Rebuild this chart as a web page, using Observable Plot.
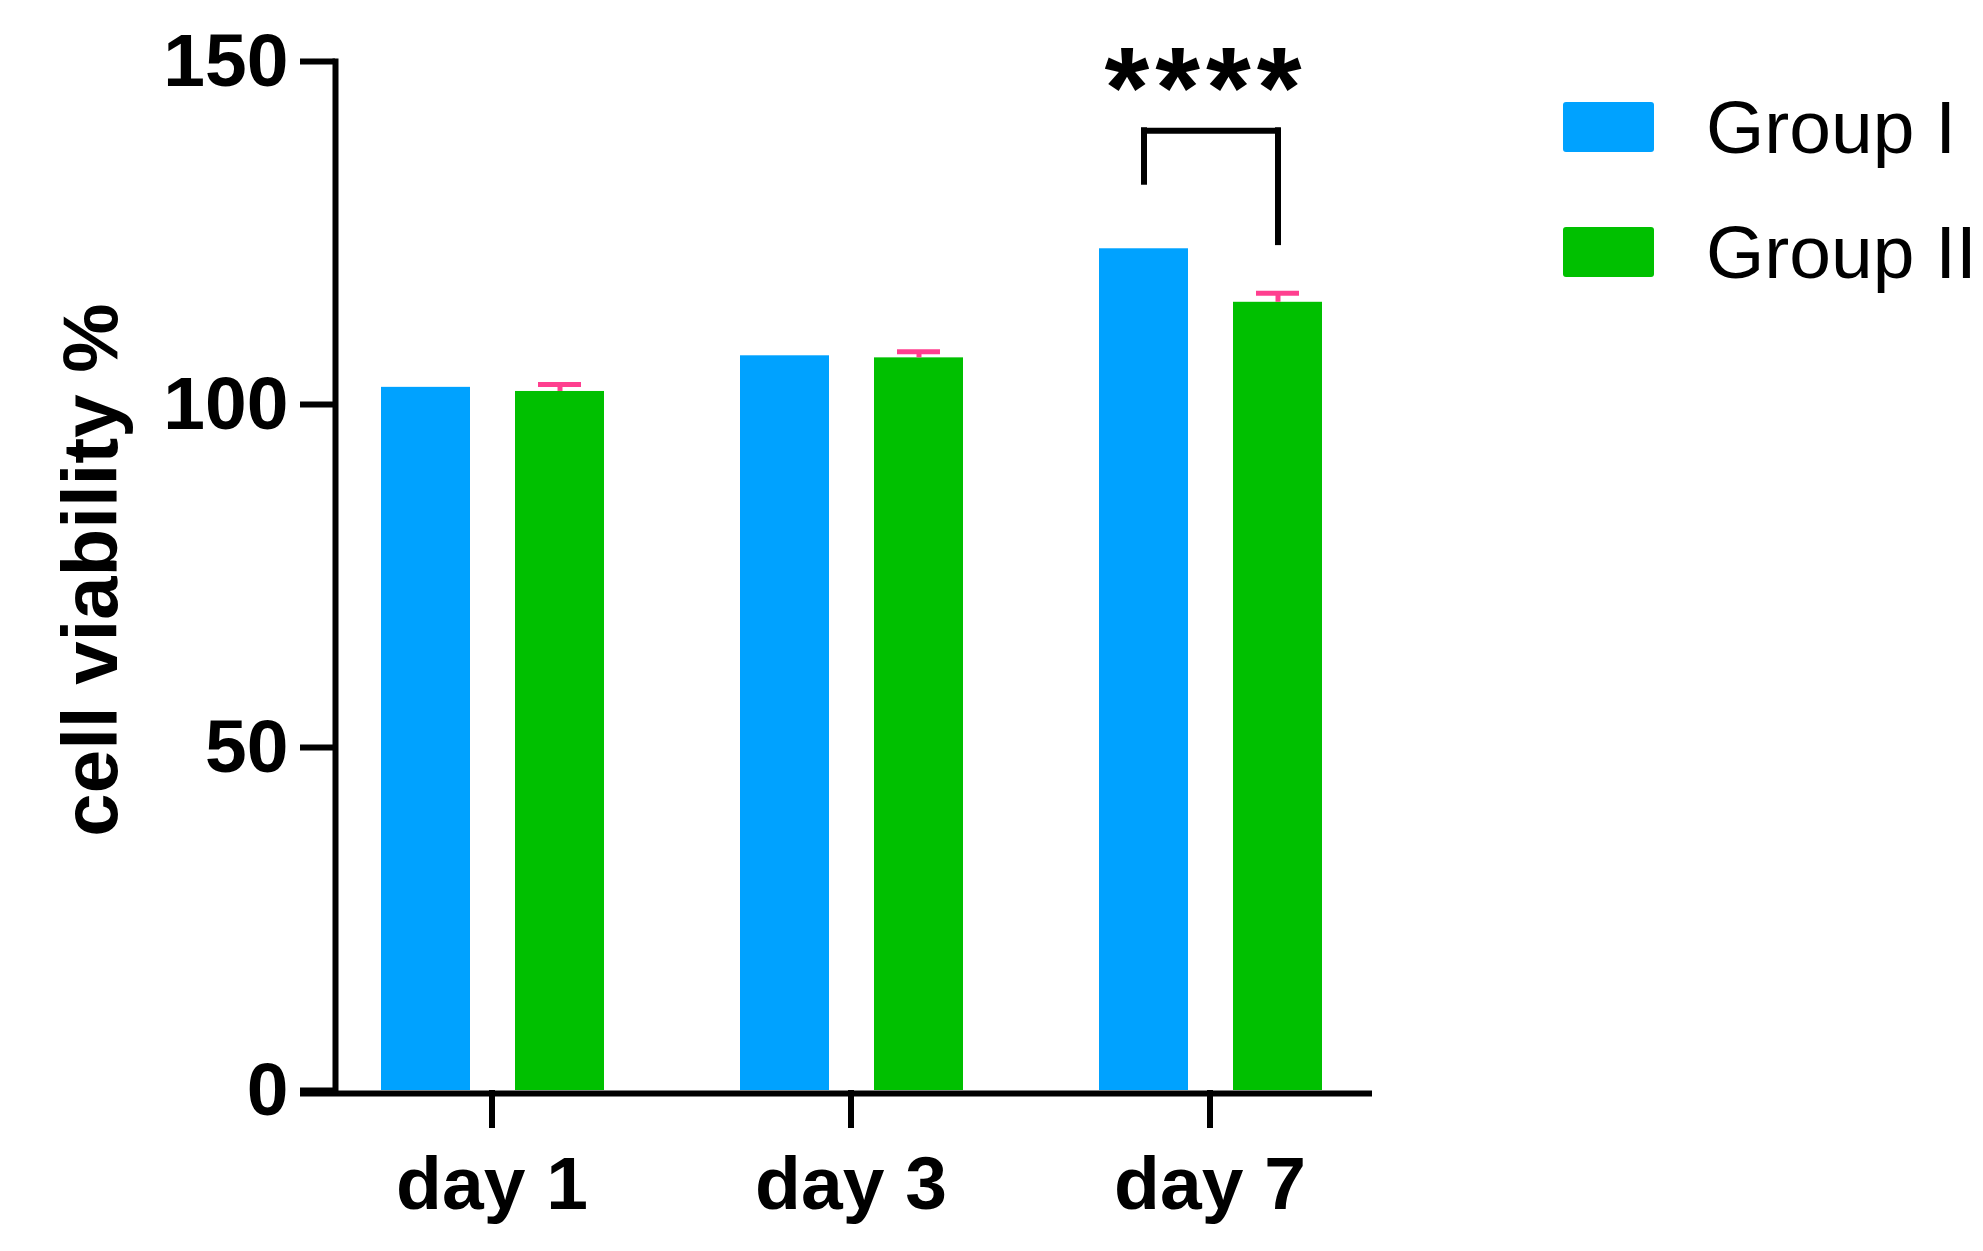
<!DOCTYPE html>
<html><head><meta charset="utf-8">
<script src="https://cdn.jsdelivr.net/npm/d3@7"></script>
<script src="https://cdn.jsdelivr.net/npm/@observablehq/plot@0.6"></script>
<style>
body{margin:0;background:#fff;}
#wrap{position:relative;width:1983px;height:1251px;}
#legend{position:absolute;left:0;top:0;}
</style>
</head><body><div id="wrap"></div>
<script>
// ---- data ----
const days = ["day 1", "day 3", "day 7"];
const groups = ["Group I", "Group II"];
const groupI = [102.5, 107.1, 122.7];
const groupII = [101.9, 106.8, 114.9];
const groupIIerr = [1.0, 0.9, 1.3];
const yTicks = [0, 50, 100, 150];
const sigDay = "day 7";
const sigLabel = "****";
const bracketTop = 139.9;
const bracketLeftEnd = 132.4;
const bracketRightEnd = 123.6;
const starY = 152.3;
const colors = ["#00a2ff", "#00c000"];
const errColor = "#ff3f8f";

const rowsI = days.map((d, i) => ({day: d, group: groups[0], value: groupI[i]}));
const rowsII = days.map((d, i) => ({day: d, group: groups[1], value: groupII[i], hi: groupII[i] + groupIIerr[i]}));
const bracket = [{day: sigDay, top: bracketTop, left: bracketLeftEnd, right: bracketRightEnd, label: sigLabel, ly: starY}];

const font = "Liberation Sans, Arial, Helvetica, sans-serif";

const chart = Plot.plot({
  width: 1983,
  height: 1251,
  marginLeft: 335,
  marginRight: 611,
  marginTop: 61,
  marginBottom: 161,
  style: {fontFamily: font, background: "white", color: "black"},
  x: {domain: days, range: [347, 1354], paddingInner: 0.2, paddingOuter: 0, axis: null},
  y: {domain: [0, 150], axis: null},
  color: {domain: groups, range: colors},
  marks: [
    Plot.barY(rowsI, {x: "day", y: "value", fill: colors[0], insetLeft: 33, insetRight: 165}),
    Plot.barY(rowsII, {x: "day", y: "value", fill: colors[1], insetLeft: 167, insetRight: 31}),
    // error bars (upper only)
    Plot.ruleX(rowsII, {x: "day", y1: "value", y2: "hi", dx: 68, stroke: errColor, strokeWidth: 5}),
    Plot.tickY(rowsII, {x: "day", y: "hi", insetLeft: 190, insetRight: 54, stroke: errColor, strokeWidth: 5}),
    // significance bracket
    Plot.tickY(bracket, {x: "day", y: "top", insetLeft: 78, insetRight: 76, stroke: "black", strokeWidth: 6, strokeLinecap: "square"}),
    Plot.ruleX(bracket, {x: "day", y1: "top", y2: "left", dx: -66, stroke: "black", strokeWidth: 6, strokeLinecap: "square"}),
    Plot.ruleX(bracket, {x: "day", y1: "top", y2: "right", dx: 68, stroke: "black", strokeWidth: 6, strokeLinecap: "square"}),
    Plot.text(bracket, {x: "day", y: "ly", text: "label", dx: -4, fontSize: 115, fontWeight: "bold", lineAnchor: "top", fill: "black", className: "sig"}),
    // axes
    Plot.frame({anchor: "left", stroke: "black", strokeWidth: 6}),
    Plot.ruleY([0], {dy: 3, insetLeft: -35, stroke: "black", strokeWidth: 6}),
    Plot.axisY({ticks: yTicks, tickSize: 35, tickPadding: 12, fontSize: 75, fontWeight: "bold", strokeWidth: 6,
      label: "cell viability %", labelAnchor: "center", labelOffset: 274, labelArrow: "none"}),
    Plot.axisX({tickSize: 38, tickPadding: 27, fontSize: 75, fontWeight: "bold", strokeWidth: 6, label: null})
  ]
});
const wrap = document.getElementById("wrap");
wrap.appendChild(chart);
// y-axis title slightly larger than tick labels, nudged up a little
d3.select(chart).selectAll("g[aria-label='y-axis label'] text").attr("font-size", 78).attr("dx", "6");
// wider spacing between the significance asterisks
d3.select(chart).selectAll(".sig text").style("letter-spacing", "6px");

// ---- legend ----
const leg = d3.select(wrap).append("svg").attr("id", "legend").attr("width", 1983).attr("height", 400)
  .style("font-family", font);
groups.forEach((g, i) => {
  const top = 102 + i * 125;
  leg.append("rect").attr("x", 1563).attr("y", top).attr("width", 91).attr("height", 50).attr("rx", 3).attr("fill", colors[i]);
  leg.append("text").attr("x", 1706).attr("y", top + 51).attr("font-size", 75).attr("fill", "black").text(g);
});
</script>
</body></html>
